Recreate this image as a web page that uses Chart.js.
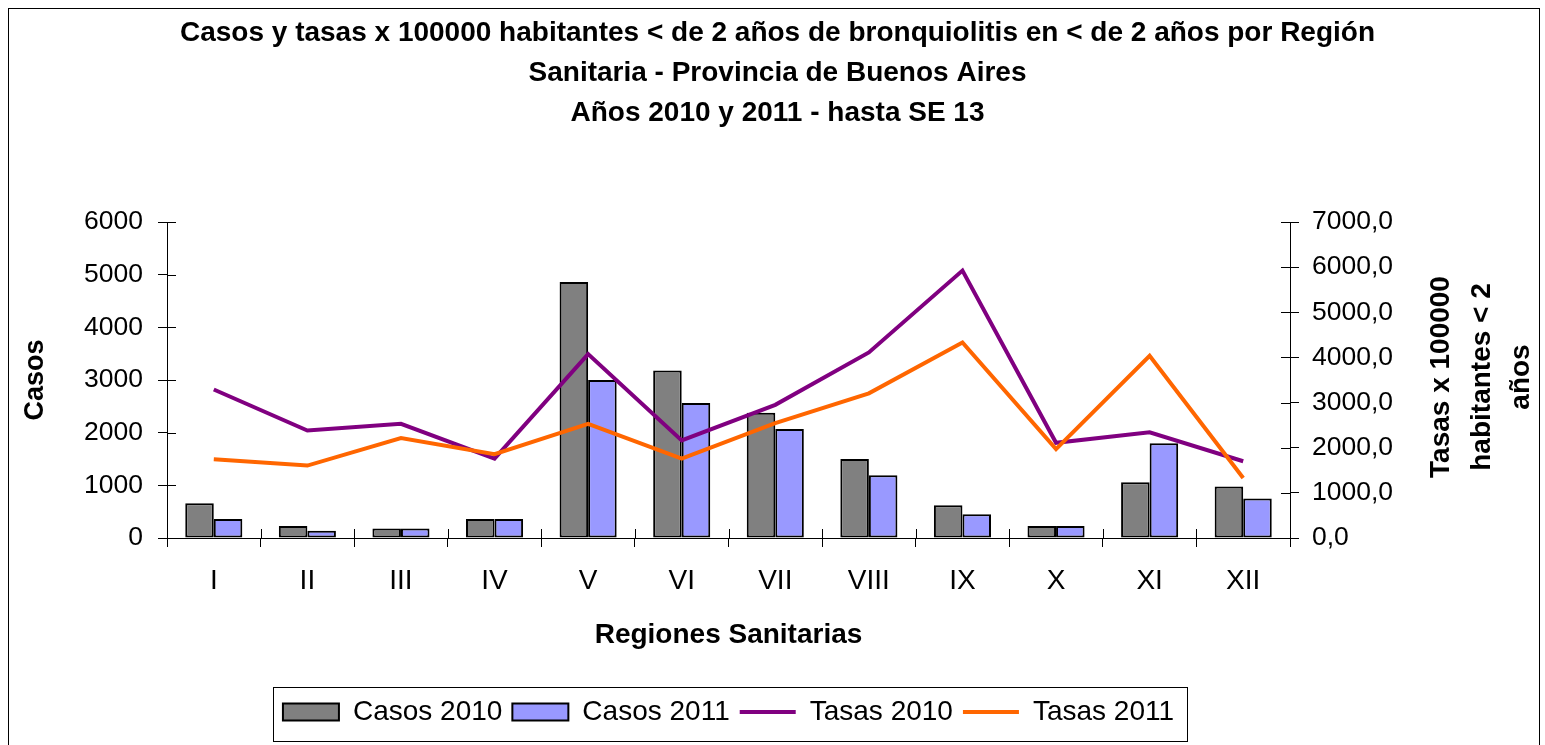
<!DOCTYPE html>
<html>
<head>
<meta charset="utf-8">
<title>Bronquiolitis por Región Sanitaria</title>
<script src="https://cdn.jsdelivr.net/npm/chart.js@4.4.1/dist/chart.umd.min.js"></script>
<style>
  body { margin: 0; background: #fff; }
  canvas { display: block; }
</style>
</head>
<body>
<canvas id="chart" width="1545" height="745"></canvas>
<script>
const regiones = ["I", "II", "III", "IV", "V", "VI", "VII", "VIII", "IX", "X", "XI", "XII"];
const casos2010 = [660, 230, 180, 360, 4860, 3180, 2380, 1500, 620, 230, 1060, 980];
const casos2011 = [360, 140, 180, 360, 3000, 2565, 2070, 1190, 450, 230, 1800, 750];
const tasas2010 = [3290, 2380, 2530, 1760, 4075, 2160, 2950, 4110, 5925, 2110, 2340, 1700];
const tasas2011 = [1745, 1605, 2215, 1855, 2530, 1760, 2545, 3205, 4330, 1970, 4035, 1330];

const FONT = "'Liberation Sans', Arial, sans-serif";
const tituloDerecho = ["Tasas x 100000", "habitantes < 2", "años"];

// inner half of the cross tick marks, outer frame, legend box, right title
const extras = {
  id: "extras",
  afterDraw(chart) {
    const ctx = chart.ctx;
    const a = chart.chartArea;
    const x = chart.scales.x, yl = chart.scales.y, yr = chart.scales.y1;
    ctx.save();
    ctx.strokeStyle = "#000";
    ctx.lineWidth = 1;
    ctx.beginPath();
    yl.ticks.forEach(t => {
      const py = Math.round(yl.getPixelForValue(t.value)) + 0.5;
      ctx.moveTo(a.left, py); ctx.lineTo(a.left + 9, py);
    });
    yr.ticks.forEach(t => {
      const py = Math.round(yr.getPixelForValue(t.value)) + 0.5;
      ctx.moveTo(a.right - 9, py); ctx.lineTo(a.right, py);
    });
    for (let i = 1; i < regiones.length; i++) {
      const px = Math.round((x.getPixelForValue(i - 1) + x.getPixelForValue(i)) / 2) + 0.5;
      ctx.moveTo(px, a.bottom - 9); ctx.lineTo(px, a.bottom);
    }
    ctx.stroke();

    // outer frame
    ctx.strokeRect(8.5, 8.5, 1531, 800);

    // legend frame
    const hb = chart.legend.legendHitBoxes;
    if (hb && hb.length) {
      const first = hb[0], last = hb[hb.length - 1];
      const cy = first.top + first.height / 2;
      const l = Math.round(first.left - 10) + 0.5;
      const r = Math.round(last.left + last.width + 13) + 0.5;
      ctx.strokeRect(l, Math.round(cy - 25) + 0.5, r - l, 54);
    }

    // right axis title, reads bottom to top
    ctx.fillStyle = "#000";
    ctx.font = "bold 28px " + FONT;
    ctx.textAlign = "center";
    ctx.textBaseline = "middle";
    const cy = (a.top + a.bottom) / 2 - 3;
    const xs = [1441, 1482, 1521];
    tituloDerecho.forEach((t, i) => {
      ctx.save();
      ctx.translate(xs[i], cy);
      ctx.rotate(-Math.PI / 2);
      ctx.fillText(t, 0, 0);
      ctx.restore();
    });
    ctx.restore();
  }
};

new Chart(document.getElementById("chart"), {
  type: "bar",
  data: {
    labels: regiones,
    datasets: [
      {
        label: "Casos 2010",
        data: casos2010,
        backgroundColor: "#808080",
        borderColor: "#000",
        borderWidth: 2,
        borderSkipped: false,
        categoryPercentage: 0.61,
        barPercentage: 1,
        yAxisID: "y",
        order: 3,
      },
      {
        label: "Casos 2011",
        data: casos2011,
        backgroundColor: "#9999FF",
        borderColor: "#000",
        borderWidth: 2,
        borderSkipped: false,
        categoryPercentage: 0.61,
        barPercentage: 1,
        yAxisID: "y",
        order: 3,
      },
      {
        type: "line",
        label: "Tasas 2010",
        data: tasas2010,
        borderColor: "#800080",
        backgroundColor: "#800080",
        borderWidth: 4,
        pointRadius: 0,
        tension: 0,
        yAxisID: "y1",
        order: 2,
      },
      {
        type: "line",
        label: "Tasas 2011",
        data: tasas2011,
        borderColor: "#FF6600",
        backgroundColor: "#FF6600",
        borderWidth: 4,
        pointRadius: 0,
        tension: 0,
        yAxisID: "y1",
        order: 1,
      },
    ],
  },
  options: {
    responsive: false,
    animation: false,
    layout: { padding: { left: 18, right: 8, top: 10, bottom: 9 } },
    plugins: {
      tooltip: { enabled: false },
      title: {
        display: true,
        text: [
          "Casos y tasas x 100000 habitantes < de 2 años de bronquiolitis en < de 2 años por Región",
          "Sanitaria - Provincia de Buenos Aires",
          "Años 2010 y 2011 - hasta SE 13",
        ],
        color: "#000",
        font: { family: FONT, size: 28, weight: "bold", lineHeight: 40 / 28 },
        padding: { top: 3, bottom: 89 },
      },
      legend: {
        position: "bottom",
        fullSize: false,
        labels: {
          color: "#000",
          font: { family: FONT, size: 28 },
          usePointStyle: true,
          pointStyleWidth: 56,
          boxHeight: 17,
          padding: 10,
          sort: (a, b) => a.datasetIndex - b.datasetIndex,
          generateLabels(chart) {
            const items = Chart.defaults.plugins.legend.labels.generateLabels(chart);
            items.forEach(it => {
              const bar = it.datasetIndex < 2;
              it.pointStyle = bar ? "rect" : "line";
              it.lineWidth = bar ? 2 : 4;
            });
            return items;
          },
        },
      },
    },
    scales: {
      x: {
        grid: { drawOnChartArea: false, tickLength: 9, color: "#000", offset: true },
        border: { color: "#000" },
        ticks: { color: "#000", font: { family: FONT, size: 28 }, padding: 17 },
        title: {
          display: true,
          text: "Regiones Sanitarias",
          color: "#000",
          font: { family: FONT, size: 28, weight: "bold" },
          padding: { top: 0, bottom: 36 },
        },
        afterFit(scale) { scale.height = 150; },
      },
      y: {
        position: "left",
        min: 0,
        max: 6000,
        grid: { drawOnChartArea: false, tickLength: 9, color: "#000" },
        border: { color: "#000" },
        ticks: {
          stepSize: 1000,
          color: "#000",
          font: { family: FONT, size: 26.5 },
          padding: 15,
          callback: v => String(v),
        },
        title: {
          display: true,
          text: "Casos",
          color: "#000",
          font: { family: FONT, size: 27, weight: "bold" },
          padding: { top: 1, bottom: 0 },
        },
        afterFit(scale) { scale.width = 149; },
      },
      y1: {
        position: "right",
        min: 0,
        max: 7000,
        grid: { drawOnChartArea: false, tickLength: 9, color: "#000" },
        border: { color: "#000" },
        ticks: {
          stepSize: 1000,
          color: "#000",
          font: { family: FONT, size: 26.5 },
          padding: 13,
          callback: v => v.toFixed(1).replace(".", ","),
        },
        afterFit(scale) { scale.width = 247; },
      },
    },
  },
  plugins: [extras],
});
</script>
</body>
</html>
